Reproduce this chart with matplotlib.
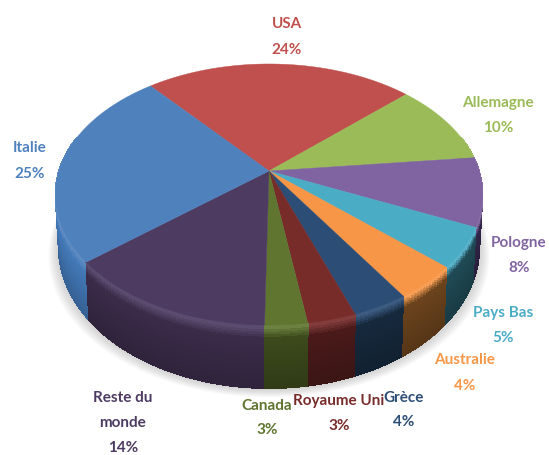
import numpy as np
import matplotlib
matplotlib.use("Agg")
import matplotlib.pyplot as plt
from matplotlib.colors import to_rgb

# slices, clockwise from the Italie/USA boundary
names = ["USA", "Allemagne", "Pologne", "Pays Bas", "Australie", "Grèce",
         "Royaume Uni", "Canada", "Reste du\nmonde", "Italie"]
shares = [24.2, 10.2, 8.49, 4.9, 4.2, 3.6, 3.1, 2.7, 13.7, 24.91]
top_colors = ["#c0504d", "#9bbb59", "#8064a2", "#4bacc6", "#f79646",
              "#2c4d75", "#772c2a", "#5f7530", "#4d3b62", "#4f81bd"]
side_colors = ["#7a2f2d", "#5f7530", "#32264a", "#1f4a55", "#6b431d",
               "#16293d", "#4a1a1a", "#3c4a1c", "#3b2c4a", "#4379b8"]
label_colors = ["#c0504d", "#9bbb59", "#8064a2", "#4bacc6", "#f79646",
                "#2c4d75", "#772c2a", "#5f7530", "#4d3b62", "#4f81bd"]
label_x = [287, 498, 519, 503, 465, 404, 339, 267, 123, 30]
label_y = [37, 115, 256, 326, 373, 410, 413, 418, 423, 161]
start_angle = 130

# perspective of the disk, in pixels
cx, cy = 269, 171
R, S, k = 210, 126.3, 0.18


def project(angle):
    u, v = np.cos(angle), np.sin(angle)
    w = 1 + k * v
    return cx + R * u / w, cy - S * v / w


def drop(x, y):
    # bottom rim of the cylinder under a point of the top rim
    d = 58 + (y - 262) * 0.08
    return cx + (x - cx) * 0.985, y + d


def blend(a, b, t):
    a, b = np.array(to_rgb(a)), np.array(to_rgb(b))
    return tuple(a + (b - a) * t)


fig = plt.figure(figsize=(5.49, 4.55), dpi=100)
ax = fig.add_axes([0, 0, 1, 1])
ax.set_xlim(0, 549)
ax.set_ylim(455, 0)
ax.axis("off")

edges = start_angle - np.cumsum([0] + shares) * 360 / sum(shares)

# soft shadow under the pie
a = np.radians(np.linspace(0, 360, 240))
sx, sy = project(a)
bx, by = drop(sx, sy)
for grow in np.arange(10, 0, -1.5):
    ax.fill(cx + (bx - cx) * (1 + grow / 210), by + grow * 0.8 + 1, color="#777777",
            alpha=0.05, lw=0, zorder=1)

# side of the cylinder, strip by strip
strips = []
for i in range(len(shares)):
    steps = np.arange(edges[i + 1], edges[i], 1.0)
    steps = np.append(steps, edges[i])
    for a0, a1 in zip(steps[:-1], steps[1:]):
        mid = np.radians((a0 + a1) / 2)
        if np.sin(mid) < 0.28:
            strips.append((project(mid)[1], i, np.radians(a0), np.radians(a1)))
strips.sort(key=lambda s: s[0])

ts = np.linspace(0, 1, 26)
for _, i, a0, a1 in strips:
    x0, y0 = project(a0)
    x1, y1 = project(a1)
    xb0, yb0 = drop(x0, y0)
    xb1, yb1 = drop(x1, y1)
    light = blend(top_colors[i], "#ffffff", 0.08)
    dark = blend(side_colors[i], "#000000", 0.2)
    for t0, t1 in zip(ts[:-1], ts[1:]):
        if t0 < 0.04:
            col = light
        elif t0 < 0.2:
            col = blend(light, side_colors[i], (t0 - 0.04) / 0.16)
        else:
            col = blend(side_colors[i], dark, (t0 - 0.2) / 0.8)
        ax.fill([x0 + (xb0 - x0) * t0, x1 + (xb1 - x1) * t0,
                 x1 + (xb1 - x1) * t1, x0 + (xb0 - x0) * t1],
                [y0 + (yb0 - y0) * t0, y1 + (yb1 - y1) * t0,
                 y1 + (yb1 - y1) * t1, y0 + (yb0 - y0) * t1],
                color=col, lw=0.6, antialiased=False, zorder=2)

# top of the pie
for i in range(len(shares)):
    arc = np.radians(np.linspace(edges[i], edges[i + 1], 120))
    xs, ys = project(arc)
    ax.fill(np.r_[cx, xs], np.r_[cy, ys], color=top_colors[i], lw=0.3, zorder=3)

# labels
for name, share, col, x, y in zip(names, shares, label_colors, label_x, label_y):
    ax.text(x, y, f"{name}\n{round(share)}%", color=col, ha="center", va="center",
            fontsize=11, fontweight="bold", linespacing=2.0,
            family=["Lato", "DejaVu Sans"], zorder=5)

fig.savefig("out.png", dpi=100)
